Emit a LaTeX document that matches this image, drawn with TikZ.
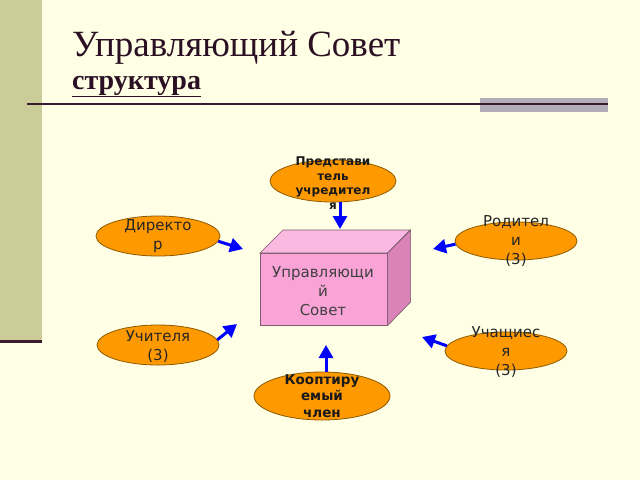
\documentclass[tikz,border=0pt]{standalone}
\usepackage{fontspec}
\setmainfont{Liberation Serif}
\newfontfamily\dejavu{DejaVu Sans}
\usetikzlibrary{arrows.meta, shapes.geometric}
\definecolor{bgcream}{HTML}{FFFFE5}
\definecolor{sideband}{HTML}{CCCC99}
\definecolor{rulecol}{HTML}{3A1A30}
\definecolor{titlecol}{HTML}{2B0F22}
\definecolor{bargray}{HTML}{B3ADB8}
\definecolor{ellfill}{HTML}{FF9900}
\definecolor{elldraw}{HTML}{8C5A00}
\definecolor{boxfront}{HTML}{F9A3D6}
\definecolor{boxtop}{HTML}{FBB9E2}
\definecolor{boxside}{HTML}{D983B8}
\definecolor{boxedge}{HTML}{7A5A6E}

\begin{document}
\begin{tikzpicture}[x=1pt, y=-1pt,
  member/.style={ellipse, fill=ellfill, draw=elldraw, line width=0.8pt, inner sep=0pt},
  membertext/.style={align=center, text=black!85, font=\dejavu\fontsize{15}{19}\selectfont},
  memberbold/.style={align=center, text=black!90, font=\dejavu\bfseries\fontsize{13.5}{16.5}\selectfont},
  feed/.style={blue, line width=3pt, -{Triangle[length=13pt, width=14pt]}}]
% Background
\fill[bgcream] (0,0) rectangle (640,480);
\useasboundingbox (0,0) rectangle (640,480);
\fill[sideband] (0,0) rectangle (42,340);
\draw[rulecol, line width=3pt] (0,341) -- (42,341);

% Title
\node[anchor=base west, inner sep=0pt, text=titlecol, font=\fontsize{37}{41}\selectfont] (title) at (72,56) {Управляющий Совет};
\node[anchor=base west, inner sep=0pt, text=titlecol, font=\bfseries\fontsize{28}{32}\selectfont] (subtitle) at (72,89) {\underline{структура}};
\fill[bargray] (480,98) rectangle (608,112);
\draw[rulecol, line width=1.2pt] (27,104) -- (608,104);

% Council box
\node[rectangle, fill=boxfront, draw=boxedge, line width=0.6pt, minimum width=127pt, minimum height=72pt, anchor=north west] (council) at (260,253) {};
\fill[boxtop, draw=boxedge, line width=0.6pt] (council.north west) -- ++(23,-23) -- ++(127,0) -- (council.north east) -- cycle;
\fill[boxside, draw=boxedge, line width=0.6pt] (council.north east) -- ++(23,-23) -- ++(0,72) -- (council.south east) -- cycle;
\node[membertext, text=black!75] at (323,291) {Управляющи\\й\\Совет};

% Members
\node[member, minimum width=126pt, minimum height=42pt] (rep) at (333,181) {};
\node[memberbold, font=\dejavu\bfseries\fontsize{12}{14.5}\selectfont] at (333,183) {Представи\\тель\\учредител\\я};
\node[member, minimum width=124pt, minimum height=40pt] (dir) at (158,236) {};
\node[membertext] at (dir) {Директо\\р};
\node[member, minimum width=122pt, minimum height=38pt] (par) at (516,241) {};
\node[membertext] at (516,241) {Родител\\и\\(3)};
\node[member, minimum width=122pt, minimum height=40pt] (teach) at (158,345) {};
\node[membertext] at (158,347) {Учителя\\(3)};
\node[member, minimum width=122pt, minimum height=38pt] (stud) at (506,351) {};
\node[membertext] at (506,352) {Учащиес\\я\\(3)};
\node[member, minimum width=136pt, minimum height=48pt] (coop) at (322,396) {};
\node[memberbold] at (322,396) {Кооптиру\\емый\\член};

% Arrows
\coordinate (repTip) at (340,229);
\coordinate (dirTip) at (243,249);
\coordinate (parTip) at (433,249);
\coordinate (teachTip) at (237,324);
\coordinate (studTip) at (422,337);
\coordinate (coopTip) at (326,345);
\draw[feed] (rep.south -| repTip) -- (repTip);
\draw[feed] (dir.-5) -- (dirTip);
\draw[feed] (par.183) -- (parTip);
\draw[feed] (teach.5) -- (teachTip);
\draw[feed] (stud.175) -- (studTip);
\draw[feed] (coop.north -| coopTip) -- (coopTip);
\end{tikzpicture}
\end{document}
